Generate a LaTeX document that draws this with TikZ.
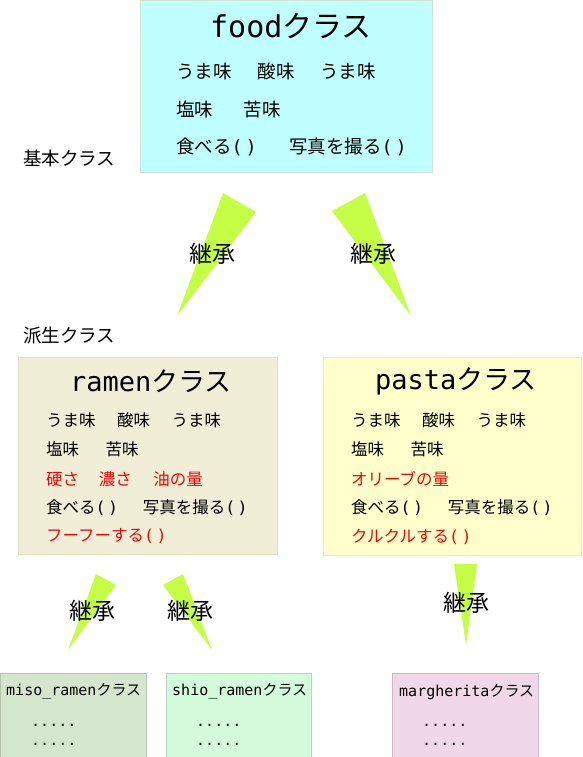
\documentclass[tikz,border=0pt]{standalone}
\usepackage{fontspec}
\setmainfont{Noto Sans CJK JP}
\newfontfamily\monofnt{DejaVu Sans Mono}
\usetikzlibrary{positioning}
\definecolor{foodfill}{RGB}{192,255,255}
\definecolor{foodline}{RGB}{208,228,208}
\definecolor{ramenfill}{RGB}{240,238,214}
\definecolor{ramenline}{RGB}{226,224,190}
\definecolor{pastafill}{RGB}{255,255,204}
\definecolor{pastaline}{RGB}{236,236,196}
\definecolor{misofill}{RGB}{213,230,206}
\definecolor{shiofill}{RGB}{212,252,220}
\definecolor{margfill}{RGB}{240,216,232}
\definecolor{lime}{RGB}{196,255,70}
\definecolor{attrred}{RGB}{255,0,0}
\newcommand{\parens}{{\monofnt(\kern0.15em)}}

\begin{document}
\begin{tikzpicture}[x=1pt, y=-1pt,
    classbox/.style={draw, line width=0.8pt, anchor=north west, inner sep=0pt},
    title/.style={inner sep=0pt, font=\fontsize{27}{31}\selectfont},
    attr/.style={anchor=west, inner sep=0pt, font=\fontsize{16.5}{20}\selectfont},
    bigattr/.style={anchor=west, inner sep=0pt, font=\fontsize{18.5}{22}\selectfont},
    newattr/.style={attr, text=attrred},
    small/.style={anchor=west, inner sep=0pt, font=\fontsize{15}{18}\selectfont},
    dots/.style={anchor=base west, inner sep=0pt, font=\monofnt\fontsize{15}{18}\selectfont},
    inherit/.style={fill=lime, draw=none},
    inhlabel/.style={inner sep=0pt, font=\fontsize{23}{26}\selectfont},
    caption/.style={anchor=west, inner sep=0pt, font=\fontsize{18.5}{22}\selectfont}]
    \useasboundingbox (0,0) rectangle (582,757);

    % base class
    \node[classbox, fill=foodfill, draw=foodline, minimum width=292pt, minimum height=172pt] (food) at (140,0) {};
    \node[title, font=\fontsize{30}{34}\selectfont] (foodtitle) at (291,26) {{\monofnt food}クラス};
    \node[bigattr] (food1) at (176,71.5) {うま味\hspace{1.4em}酸味\hspace{1.4em}うま味};
    \node[bigattr] (food2) at (176,109) {塩味\hspace{1.65em}苦味};
    \node[bigattr] (food3) at (176,146.5) {食べる\parens\hspace{1.75em}写真を撮る\parens};
    \node[caption] (base) at (23,158) {基本クラス};

    % inheritance to ramen and pasta
    \fill[inherit] (223,193) -- (256,212) -- (177,316) -- cycle;
    \fill[inherit] (332,211) -- (365,193) -- (411,316) -- cycle;
    \node[inhlabel] (inhramen) at (212,253.5) {継承};
    \node[inhlabel] (inhpasta) at (373,254) {継承};
    \node[caption] (derived) at (23,336) {派生クラス};

    % ramen
    \node[classbox, fill=ramenfill, draw=ramenline, minimum width=259pt, minimum height=197pt] (ramen) at (18,357) {};
    \node[title] (ramentitle) at (151,381) {{\monofnt ramen}クラス};
    \node[attr] (ramen1) at (46,420.5) {うま味\hspace{1.3em}酸味\hspace{1.3em}うま味};
    \node[attr] (ramen2) at (46,449.5) {塩味\hspace{1.6em}苦味};
    \node[newattr] (ramen3) at (46,479) {硬さ\hspace{1.2em}濃さ\hspace{1.3em}油の量};
    \node[attr] (ramen4) at (46,508) {食べる\parens\hspace{1.5em}写真を撮る\parens};
    \node[newattr] (ramen5) at (46,536.5) {フーフーする\parens};

    % pasta
    \node[classbox, fill=pastafill, draw=pastaline, minimum width=258pt, minimum height=198pt] (pasta) at (323,357) {};
    \node[title] (pastatitle) at (456,381) {{\monofnt pasta}クラス};
    \node[attr] (pasta1) at (351,420.5) {うま味\hspace{1.3em}酸味\hspace{1.3em}うま味};
    \node[attr] (pasta2) at (351,449.5) {塩味\hspace{1.6em}苦味};
    \node[newattr] (pasta3) at (351,479) {オリーブの量};
    \node[attr] (pasta4) at (351,508) {食べる\parens\hspace{1.5em}写真を撮る\parens};
    \node[newattr] (pasta5) at (351,536.5) {クルクルする\parens};

    % inheritance to the leaf classes
    \fill[inherit] (96,574) -- (116,585) -- (68,650) -- cycle;
    \fill[inherit] (163,585) -- (183,574) -- (212,650) -- cycle;
    \fill[inherit] (454,564) -- (477,564) -- (466,645) -- cycle;
    \node[inhlabel] (inhmiso) at (92,611) {継承};
    \node[inhlabel] (inhshio) at (190.5,611) {継承};
    \node[inhlabel] (inhmarg) at (466.5,603) {継承};

    % leaf classes
    \node[classbox, fill=misofill, draw=misofill!85!black, minimum width=146pt, minimum height=85pt] (miso) at (0,673) {};
    \node[small] (misotitle) at (6,691) {{\monofnt miso\_ramen}クラス};
    \node[dots] (miso1) at (31,726) {.....};
    \node[dots] (miso2) at (31,745.5) {.....};

    \node[classbox, fill=shiofill, draw=shiofill!85!black, minimum width=145pt, minimum height=85pt] (shio) at (166,673) {};
    \node[small] (shiotitle) at (172,691) {{\monofnt shio\_ramen}クラス};
    \node[dots] (shio1) at (196,726) {.....};
    \node[dots] (shio2) at (196,745.5) {.....};

    \node[classbox, fill=margfill, draw=margfill!85!black, minimum width=146pt, minimum height=85pt] (marg) at (392,673) {};
    \node[small] (margtitle) at (399,692) {{\monofnt margherita}クラス};
    \node[dots] (marg1) at (422,726) {.....};
    \node[dots] (marg2) at (422,745.5) {.....};
\end{tikzpicture}
\end{document}
